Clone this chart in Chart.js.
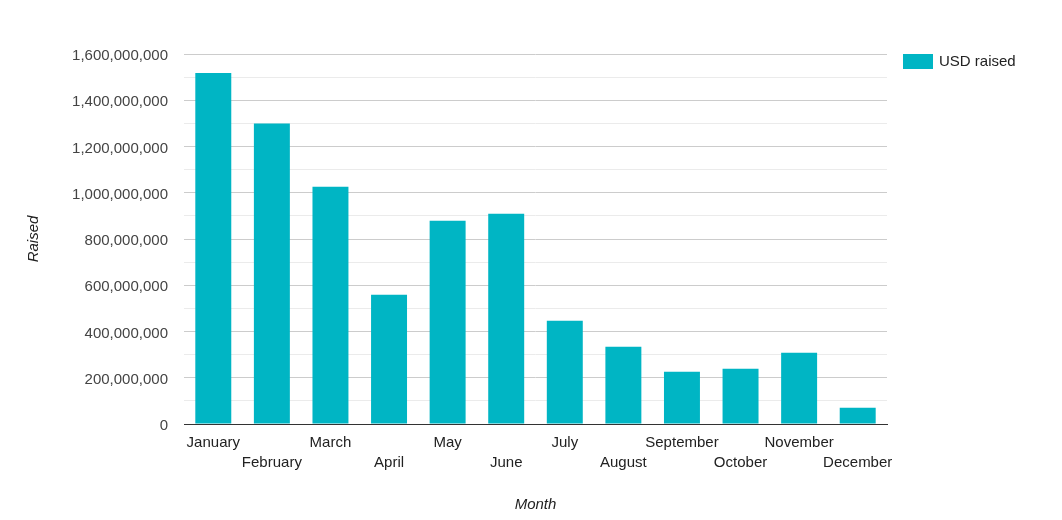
<!DOCTYPE html>
<html>
<head>
<meta charset="utf-8">
<script src="https://cdn.jsdelivr.net/npm/chart.js@4.4.1/dist/chart.umd.min.js"></script>
<style>
html,body{margin:0;padding:0;background:#fff;}
#wrap{width:1062px;height:520px;position:relative;}
</style>
</head>
<body>
<div id="wrap"><canvas id="c" width="1062" height="520"></canvas></div>
<script>
const categories = ["January","February","March","April","May","June","July","August","September","October","November","December"];
const usdRaised = [1518000000,1299000000,1026000000,559000000,879000000,909000000,447000000,334000000,226000000,239000000,308000000,70000000];
const seriesName = "USD raised";
const yTickStep = 200000000;
const yMax = 1600000000;

const FONT = "'Liberation Sans', Arial, sans-serif";
const FS = 15;
const BAR = "#00b5c4";

const legendPlugin = {
  id: 'customLegend',
  afterDraw(chart) {
    const ctx = chart.ctx;
    const ds = chart.data.datasets[0];
    ctx.save();
    ctx.fillStyle = ds.backgroundColor;
    ctx.fillRect(903, 54, 30, 15);
    ctx.fillStyle = '#222';
    ctx.font = FS + 'px ' + FONT;
    ctx.textBaseline = 'middle';
    ctx.textAlign = 'left';
    ctx.fillText(ds.label, 939, 62);
    ctx.restore();
  }
};

new Chart(document.getElementById('c'), {
  type: 'bar',
  data: {
    labels: categories,
    datasets: [{
      label: seriesName,
      data: usdRaised,
      backgroundColor: BAR,
      categoryPercentage: 1,
      barPercentage: 0.614
    }]
  },
  plugins: [legendPlugin],
  options: {
    responsive: false,
    animation: false,
    layout: { padding: { top: 54, right: 175, bottom: 0, left: 0 } },
    plugins: { legend: { display: false }, tooltip: { enabled: false } },
    scales: {
      x: {
        grid: { display: false },
        border: { display: true, color: '#333', width: 1 },
        ticks: {
          autoSkip: false, maxRotation: 0, minRotation: 0,
          color: '#222', font: { family: FONT, size: FS, lineHeight: '20px' }, padding: 1,
          callback: function(v, i) { const l = categories[i]; return i % 2 === 0 ? l : ['', l]; }
        },
        title: { display: true, text: 'Month', color: '#222', font: { family: FONT, size: FS, style: 'italic' }, padding: { top: 20, bottom: 6 } },
        afterFit(s) { s.height = 96; }
      },
      y: {
        min: 0, max: yMax,
        grid: {
          drawTicks: false,
          color: (c) => c.tick.value === 0 ? '#333' : (c.tick.value % yTickStep === 0 ? '#cccccc' : '#ebebeb')
        },
        border: { display: false },
        ticks: {
          stepSize: yTickStep / 2, autoSkip: false, padding: 16, labelOffset: 2,
          color: '#444', font: { family: FONT, size: FS },
          callback: (v) => v % yTickStep === 0 ? v.toLocaleString('en-US') : ''
        },
        title: { display: true, text: 'Raised', color: '#222', font: { family: FONT, size: FS, style: 'italic' }, padding: { top: 25, bottom: 0 } },
        afterFit(s) { s.width = 184; }
      }
    }
  }
});
</script>
</body>
</html>
